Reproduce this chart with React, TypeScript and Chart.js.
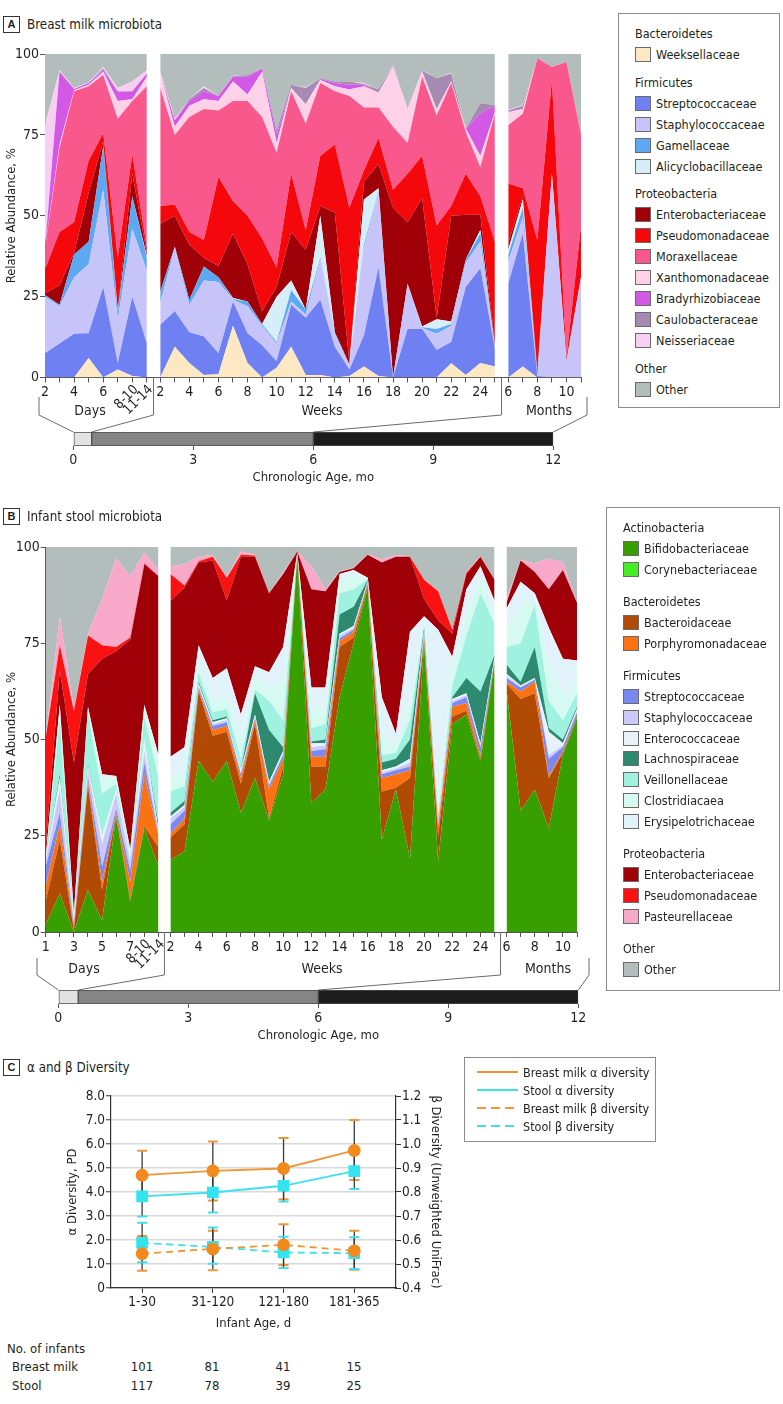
import React, { useEffect, useRef } from 'react';
import { Chart, registerables } from 'chart.js';

Chart.register(...registerables);

const FONT = "'Liberation Sans Narrow', 'Arial Narrow', 'DejaVu Sans Condensed', 'Roboto Condensed', sans-serif";
const INK = '#231F20';
const AXIS = '#555555';
const OTHER_COLOR = '#B3BDBB';

// ================= Shared time axis =================
const weekTicks = ['2', '', '4', '', '6', '', '8', '', '10', '', '12', '', '14', '', '16', '', '18', '', '20', '', '22', '', '24', ''];
const monthTicks = ['6', '', '8', '', '10', ''];
const timeGroups = ['Days', 'Weeks', 'Months'];
const phaseBounds = [0, 0.46, 6, 12]; // chronologic age, months
const phaseColors = ['#E2E2E2', '#858585', '#1C1C1C'];

// ================= Panel A: breast milk =================
const milkDayTicks = ['2', '', '4', '', '6', '', '8-10', '11-14'];
const milkSegments = [8, 24, 6];
const milkFamilies = ['Weeksellaceae', 'Streptococcaceae', 'Staphylococcaceae', 'Gamellaceae', 'Alicyclobacillaceae', 'Enterobacteriaceae', 'Pseudomonadaceae', 'Moraxellaceae', 'Xanthomonadaceae', 'Bradyrhizobiaceae', 'Caulobacteraceae', 'Neisseriaceae'];
const milkColors = ['#FCE8C2', '#6E80F2', '#C6C4F8', '#5CA8F2', '#D6EEF8', '#A00008', '#F5080C', '#F9588C', '#FDD2E8', '#D458E6', '#A58AB2', '#F8CEF2'];
const milkPhyla = ['Bacteroidetes', 'Firmicutes', 'Proteobacteria'];
const milkPhylumSizes = [1, 4, 7];

const milkWeeksellaceae = [0, 0, 0, 6, 0, 2.5, 0.5, 0, 0, 9.5, 4.5, 0.8, 1, 16, 4.5, 0, 3, 9.5, 0.8, 0.8, 0, 0.5, 3.4, 0.5, 0, 0, 0, 0, 4.4, 0.8, 4.5, 3.4, 0, 3.4, 0, 0, 0, 0];
const milkStreptococcaceae = [7.5, 10.5, 13.5, 7.7, 28, 2, 24.5, 10.5, 16.3, 11, 9.5, 11.9, 6.5, 7.5, 9.2, 10, 2, 13, 17.7, 23.2, 9.5, 2, 9.6, 33.5, 0, 15, 15, 8.5, 6.6, 27.2, 29.3, 5.6, 29, 41.1, 0.5, 0, 0, 0];
const milkStaphylococcaceae = [17.5, 11.5, 17.5, 21.3, 30, 13.5, 21, 22.5, 6.7, 19.5, 8.5, 17.3, 22, 0.5, 8.3, 6, 5.5, 1, 1, 12.5, 4, 1, 27, 23, 0, 14, 0.3, 5, 5, 7.5, 8.2, 0.5, 7, 5, 0.5, 63, 5, 31];
const milkGamellaceae = [0.5, 0.5, 7, 7, 13.5, 2, 10, 4, 3.5, 0.5, 1.5, 4.3, 1.5, 0.3, 1.5, 0.5, 0.5, 3.5, 1.5, 0.5, 0.5, 0.3, 1, 0.5, 0, 0, 0.2, 1.5, 0.5, 1, 2.5, 0, 2, 3, 0, 0, 0, 0];
const milkAlicyclobacillaceae = [0, 0, 0, 0, 0, 0.5, 0, 0.5, 0, 0, 0, 0, 0, 0.3, 0, 0, 14, 3, 0, 13, 0, 0.2, 14, 1, 0, 0, 0.3, 3, 0.8, 0, 1.1, 0, 1.5, 2.5, 0, 0, 0, 0];
const milkEnterobacteriaceae = [0.5, 6, 0.5, 15, 1.5, 0.5, 7, 1, 21, 9.5, 17, 2.7, 3.5, 19.9, 11.5, 4, 3, 15, 18.5, 3, 37, 0.5, 5.5, 7.5, 52.5, 19, 39.7, 0.5, 32.7, 13.8, 4.7, 1, 2, 1, 1.5, 0, 0.5, 0];
const milkPseudomonadaceae = [7.5, 16.5, 9.5, 10, 2.5, 16, 6, 1.5, 5.5, 3.5, 4, 5.5, 27.5, 10, 15, 22.5, 6, 18, 6, 15.5, 21, 48, 3.5, 8, 5.5, 15, 13, 28.5, 3, 12.7, 5.7, 31.5, 18.5, 2.5, 40, 29, 0.5, 16];
const milkMoraxellaceae = [6.5, 26, 40.5, 23, 18, 43, 16.5, 50, 36.5, 21.5, 35.5, 40.5, 20.5, 31, 35.5, 37.5, 35.5, 25.5, 33, 22.5, 16.5, 34.5, 19.5, 9.5, 19.5, 9.5, 24.5, 34, 38, 13, 9, 39.5, 18, 23, 56.2, 4, 91.5, 28];
const milkXanthomonadaceae = [0, 1, 0.3, 0.5, 1, 5.5, 0.5, 3, 4.5, 2.5, 3.5, 3, 3, 6, 2, 14, 3, 1, 6, 1, 1.5, 2, 6.5, 4.5, 18.5, 10.5, 1.5, 2, 0.5, 1, 3.5, 0.5, 4, 1.5, 0, 0, 0, 0];
const milkBradyrhizobiaceae = [0, 22.5, 0.4, 0.5, 0.5, 2.8, 2.5, 1, 0, 2, 1.5, 2.5, 1.5, 1.5, 5.5, 1, 2.5, 0, 0, 0.3, 1, 1.5, 0.5, 0, 0.2, 0, 0.2, 0, 0, 0, 13.2, 2, 0.2, 0, 0, 0, 0, 0.5];
const milkCaulobacteraceae = [0, 0, 0, 0, 0.5, 0.2, 0, 0, 0, 0, 0.5, 1, 0, 0.2, 0.5, 0, 1.5, 1, 5, 0.2, 0.5, 1, 0.2, 1, 0.2, 0.2, 0.1, 9.5, 2.5, 0, 3.1, 0.2, 0.3, 1, 0, 0, 0, 0];
const milkNeisseriaceae = [38, 0.5, 0.2, 0.2, 0.5, 1, 3, 1, 0.5, 0.5, 0, 0.5, 0, 0.1, 0, 0.1, 0, 0, 0.2, 0, 0, 0, 0.3, 0, 0.2, 0, 0.2, 0, 0.2, 0, 0, 0, 0.2, 0.2, 0, 0, 0, 0];

const milkSeries = [milkWeeksellaceae, milkStreptococcaceae, milkStaphylococcaceae, milkGamellaceae, milkAlicyclobacillaceae, milkEnterobacteriaceae, milkPseudomonadaceae, milkMoraxellaceae, milkXanthomonadaceae, milkBradyrhizobiaceae, milkCaulobacteraceae, milkNeisseriaceae];

// ================= Panel B: infant stool =================
const stoolDayTicks = ['1', '', '3', '', '5', '', '7', '8-10', '11-14'];
const stoolSegments = [9, 24, 6];
const stoolFamilies = ['Bifidobacteriaceae', 'Corynebacteriaceae', 'Bacteroidaceae', 'Porphyromonadaceae', 'Streptococcaceae', 'Staphylococcaceae', 'Enterococcaceae', 'Lachnospiraceae', 'Veillonellaceae', 'Clostridiacaea', 'Erysipelotrichaceae', 'Enterobacteriaceae', 'Pseudomonadaceae', 'Pasteurellaceae'];
const stoolColors = ['#37A000', '#44EE22', '#B04A04', '#FB7212', '#7A88F2', '#CBC9F8', '#E8F3F9', '#2E8A6E', '#9EF2DF', '#D6F9F1', '#E2F2FA', '#A00008', '#FA1212', '#F8A9C9'];
const stoolPhyla = ['Actinobacteria', 'Bacteroidetes', 'Firmicutes', 'Proteobacteria'];
const stoolPhylumSizes = [2, 2, 7, 3];

const stoolBifidobacteriaceae = [2, 10, 0, 11, 3, 30, 8, 27, 17, 18.7, 21, 44.5, 39, 44.5, 31, 40, 29, 41, 97.5, 33.5, 37, 61, 75, 89.5, 24, 37, 19, 75, 18.5, 54, 56.5, 44.5, 70, 63, 31.5, 37, 27, 46, 55.5];
const stoolCorynebacteriaceae = [0, 0, 0, 0, 0, 0, 0, 0, 0, 0, 0, 0, 0, 0, 0, 0, 0, 0, 0, 0, 0, 0, 0, 0, 0, 0, 0, 0, 0, 0, 0, 0, 0, 0, 0, 0, 0, 0, 0];
const stoolBacteroidaceae = [6, 14, 0.5, 27, 8, 0.5, 0.5, 0.5, 5, 5.8, 7, 18, 12, 7.5, 7.5, 14, 0.5, 2, 0.2, 9.5, 6, 13, 1.5, 0.5, 12.5, 0.5, 21, 1, 6.5, 2, 1, 0.5, 0.3, 1.5, 29, 25, 13, 0.5, 0.5];
const stoolPorphyromonadaceae = [4, 4, 0.5, 1, 2, 0.5, 4.5, 13.5, 3, 1, 1.5, 0.5, 1.5, 1.5, 1.5, 1, 7.5, 2, 0.2, 2.5, 2.5, 1.5, 1.5, 0.5, 3.5, 3.5, 2, 0.5, 2.5, 2.5, 2, 1, 0.2, 0.5, 2, 3, 0.5, 0.5, 0];
const stoolStreptococcaceae = [5, 3, 1, 1, 4, 1, 3, 3, 0.5, 2.5, 2, 0.5, 1, 1, 1, 0.5, 1, 1, 0.1, 1.5, 2, 0.8, 0.5, 0.2, 1, 1, 1, 0.5, 0.5, 1, 1.5, 2, 0.2, 1, 1, 0.5, 4.5, 1, 1];
const stoolStaphylococcaceae = [1.5, 6, 1, 2, 6, 4, 2.5, 3, 0.5, 1.5, 1, 0.5, 0.5, 0.5, 0.5, 0.5, 0.5, 0.5, 0.1, 1, 1, 0.7, 0.5, 0.3, 0.5, 0.5, 1, 0.5, 0.5, 0.5, 0.5, 0.5, 0.3, 0.5, 0.2, 0.3, 1, 0.5, 0.5];
const stoolEnterococcaceae = [0.5, 3, 0.5, 1, 2, 1, 0.5, 3, 0.5, 0.5, 0.5, 0.5, 0.5, 0.5, 0.5, 0.5, 0.5, 0.5, 0.1, 1, 0.5, 0.5, 0.5, 0.2, 0.5, 0.5, 1, 0.5, 0.5, 0.5, 0.5, 0.5, 0.5, 0.5, 0.3, 0.2, 6, 0.5, 0.5];
const stoolLachnospiraceae = [0, 1, 0, 0.5, 0, 0, 0, 0, 1.5, 1, 1, 0.5, 0.5, 0.5, 0, 5.5, 13.5, 1, 0.1, 0.5, 1, 5, 5, 0.3, 2, 2, 5, 1, 0.5, 0.5, 4, 13.5, 0.5, 2.5, 1, 8, 1, 1, 0.5];
const stoolVeillonellaceae = [0, 14, 0.5, 13.5, 11, 1.5, 1, 6, 12, 5.5, 4, 2.5, 2, 2, 3, 1, 7.5, 7, 0.1, 3.5, 4, 5.5, 4.5, 0.2, 2, 1.5, 5, 1, 0.5, 3, 11, 25.5, 8, 4.5, 10, 11, 7, 5, 3.5];
const stoolClostridiacaea = [0, 3, 0.5, 1, 4, 1.5, 1, 2.5, 4, 3.5, 4, 2.5, 3, 4, 5, 3, 3.5, 10, 0.1, 5, 4.5, 3.5, 4, 0.2, 6, 2, 5, 1, 5, 5, 6, 4, 4, 4, 10, 2, 10, 7, 3];
const stoolErysipelotrichaceae = [0.5, 1, 0.5, 0.5, 1, 0.5, 0.5, 0.5, 2, 5.5, 6, 4.5, 6, 6.5, 6.5, 3, 4, 9, 0.1, 5.5, 5, 1.5, 1, 0.1, 9, 3, 18, 1, 43.5, 2.5, 6, 3, 2, 6, 6, 1, 9, 9, 5.5];
const stoolEnterobacteriaceae = [2.5, 9, 39, 8.5, 30, 32.5, 54.5, 36.5, 46.5, 40.5, 41.5, 21.5, 30.5, 17.7, 41, 28.5, 20.5, 19, 0.2, 25.5, 25, 0.5, 0.5, 6, 35, 46, 19.5, 4.5, 2.5, 6, 4, 2.5, 5.5, 1.5, 5.5, 5.5, 10, 23, 15];
const stoolPseudomonadaceae = [28.5, 6.5, 13.5, 10, 3.5, 1, 0.5, 0.3, 0, 7, 0.5, 0.3, 1, 5.8, 0.5, 0.3, 0, 0, 0, 0, 0, 0, 0, 0, 0, 0, 0, 5, 7.5, 1, 0.3, 0, 0, 0, 0, 0, 0, 0, 0];
const stoolPasteurellaceae = [0, 7.5, 0.5, 0.5, 12, 23, 16, 2.7, 1.5, 2, 5.5, 1.2, 0.5, 0.2, 0.8, 0.2, 0, 0.5, 0, 6, 0.5, 0.2, 0.2, 0.2, 0.8, 0.4, 0.1, 0, 0.2, 0, 0.3, 0.2, 0, 1, 0.1, 2.3, 8, 2, 0];

const stoolSeries = [stoolBifidobacteriaceae, stoolCorynebacteriaceae, stoolBacteroidaceae, stoolPorphyromonadaceae, stoolStreptococcaceae, stoolStaphylococcaceae, stoolEnterococcaceae, stoolLachnospiraceae, stoolVeillonellaceae, stoolClostridiacaea, stoolErysipelotrichaceae, stoolEnterobacteriaceae, stoolPseudomonadaceae, stoolPasteurellaceae];

// ================= Panel C: diversity =================
const ageGroups = ['1-30', '31-120', '121-180', '181-365'];
const milkAlpha = [4.7, 4.88, 4.98, 5.73];
const milkAlphaLow = [3.7, 3.65, 3.7, 4.5];
const milkAlphaHigh = [5.72, 6.1, 6.25, 7.0];
const stoolAlpha = [3.82, 3.98, 4.26, 4.87];
const stoolAlphaLow = [2.98, 3.15, 3.6, 4.13];
const stoolAlphaHigh = [4.68, 4.8, 4.93, 5.57];
const milkBeta = [0.543, 0.563, 0.58, 0.555];
const milkBetaLow = [0.472, 0.474, 0.496, 0.476];
const milkBetaHigh = [0.617, 0.639, 0.666, 0.639];
const stoolBeta = [0.588, 0.571, 0.548, 0.545];
const stoolBetaLow = [0.507, 0.501, 0.483, 0.479];
const stoolBetaHigh = [0.672, 0.652, 0.614, 0.611];
const infantsBreastMilk = [101, 81, 41, 15];
const infantsStool = [117, 78, 39, 25];

const ORANGE_LINE = '#EE9638';
const ORANGE_MARK = '#F28A1E';
const CYAN_LINE = '#3EE0EE';
const CYAN_MARK = '#33E4F0';

// ================= Components =================
type AreaLayout = {
  top: number; height: number; axisW: number; padRight: number; padTop: number; xAxisH: number;
  leftX: number; rightX: number; vTop: number; vBottom: number; barTop: number;
  tlLeft: number; tlRight: number; groupX: number[]; groupY: number;
};

function AreaChart(props: { series: number[][]; labels: string[]; colors: string[]; segments: number[]; gap: number; ticks: string[]; L: AreaLayout }) {
  const ref = useRef<HTMLCanvasElement>(null);
  useEffect(() => {
    const { series, labels, colors, segments, gap, ticks, L } = props;
    const segXs: number[][] = [];
    let start = 0;
    segments.forEach((n) => {
      const xs: number[] = [];
      for (let i = 0; i < n; i++) xs.push(start + i);
      segXs.push(xs);
      start = start + n - 1 + gap;
    });
    const allXs = segXs.flat();
    const xMax = allXs[allXs.length - 1];
    const datasets: any[] = [];
    let gi = 0;
    segments.forEach((n, s) => {
      const xs = segXs[s];
      const cum = xs.map(() => 0);
      series.forEach((vals, f) => {
        const data = xs.map((x, i) => { cum[i] += vals[gi + i]; return { x, y: cum[i] }; });
        datasets.push({ label: labels[f], data, backgroundColor: colors[f], borderColor: 'transparent', borderWidth: 0, pointRadius: 0, fill: f === 0 ? 'origin' : '-1', tension: 0 });
      });
      const other = xs.map((_, i) => 100 - cum[i]);
      datasets.push({ label: 'Other', data: xs.map((x, i) => ({ x, y: cum[i] + other[i] })), backgroundColor: OTHER_COLOR, borderColor: 'transparent', borderWidth: 0, pointRadius: 0, fill: '-1', tension: 0 });
      gi += n;
    });
    const seps = [
      (segXs[0][segXs[0].length - 1] + segXs[1][0]) / 2,
      (segXs[1][segXs[1].length - 1] + segXs[2][0]) / 2,
    ];
    const rotated = ticks.map((t, i) => ({ t, v: allXs[i] })).filter((o) => o.t.indexOf('-') >= 0);
    const bracketPlugin = {
      id: 'brackets',
      afterDraw(chart: any) {
        const { ctx, chartArea } = chart;
        const x = chart.scales.x;
        const T = (m: number) => L.tlLeft + (m / 12) * (L.tlRight - L.tlLeft);
        ctx.save();
        ctx.strokeStyle = '#6b6b6b';
        ctx.lineWidth = 1;
        ctx.beginPath();
        ctx.moveTo(L.leftX, L.vTop); ctx.lineTo(L.leftX, L.vBottom); ctx.lineTo(T(phaseBounds[0]), L.barTop);
        seps.forEach((sv, k) => {
          const px = x.getPixelForValue(sv);
          ctx.moveTo(px, chartArea.bottom); ctx.lineTo(px, L.vBottom); ctx.lineTo(T(phaseBounds[k + 1]), L.barTop);
        });
        ctx.moveTo(L.rightX, L.vTop); ctx.lineTo(L.rightX, L.vBottom); ctx.lineTo(T(phaseBounds[3]), L.barTop);
        ctx.stroke();
        ctx.fillStyle = INK;
        ctx.font = `13.5px ${FONT}`;
        rotated.forEach((o) => {
          const px = x.getPixelForValue(o.v);
          ctx.save();
          ctx.translate(px + 4, chartArea.bottom + 10);
          ctx.rotate(-Math.PI / 4);
          ctx.textAlign = 'right';
          ctx.textBaseline = 'middle';
          ctx.fillText(o.t, 0, 0);
          ctx.restore();
        });
        ctx.font = `14px ${FONT}`;
        ctx.textAlign = 'center';
        ctx.textBaseline = 'middle';
        timeGroups.forEach((g, k) => ctx.fillText(g, L.groupX[k], L.groupY));
        ctx.restore();
      },
    };
    const chart = new Chart(ref.current as HTMLCanvasElement, {
      type: 'line',
      data: { datasets },
      options: {
        responsive: false, animation: false, devicePixelRatio: 1, events: [],
        layout: { padding: { left: 0, right: L.padRight, top: L.padTop, bottom: 0 } },
        plugins: { legend: { display: false }, tooltip: { enabled: false } },
        scales: {
          x: {
            type: 'linear', min: 0, max: xMax,
            afterBuildTicks: (sc: any) => { sc.ticks = allXs.map((v) => ({ value: v })); },
            afterFit: (sc: any) => { sc.height = L.xAxisH; },
            ticks: { autoSkip: false, maxRotation: 0, minRotation: 0, padding: 1.5, color: INK, font: { family: FONT, size: 14 },
              callback: (_v: any, i: number) => (ticks[i] && ticks[i].indexOf('-') < 0 ? ticks[i] : '') },
            grid: { drawOnChartArea: false, drawTicks: true, tickLength: 5, color: AXIS },
            border: { display: true, color: AXIS },
          },
          y: {
            min: 0, max: 100,
            afterFit: (sc: any) => { sc.width = L.axisW; },
            ticks: { stepSize: 25, padding: 1, color: INK, font: { family: FONT, size: 14 } },
            grid: { drawOnChartArea: false, tickLength: 5, color: AXIS },
            border: { display: true, color: AXIS },
            title: { display: true, text: 'Relative Abundance, %', color: INK, font: { family: FONT, size: 13 }, padding: { top: 4, bottom: 0 } },
          },
        },
      } as any,
      plugins: [bracketPlugin],
    });
    return () => chart.destroy();
  }, []);
  return <canvas ref={ref} width={600} height={props.L.height} style={{ position: 'absolute', left: 0, top: props.L.top }} />;
}

function Timeline(props: { top: number; tlLeft: number; tlRight: number }) {
  const ref = useRef<HTMLCanvasElement>(null);
  useEffect(() => {
    const chart = new Chart(ref.current as HTMLCanvasElement, {
      type: 'bar',
      data: {
        labels: ['age'],
        datasets: phaseColors.map((c, i) => ({
          label: timeGroups[i], data: [[phaseBounds[i], phaseBounds[i + 1]]] as any,
          backgroundColor: c, borderColor: '#4d4d4d', borderWidth: 1, borderSkipped: false,
          barPercentage: 1, categoryPercentage: 1, grouped: false,
        })),
      },
      options: {
        indexAxis: 'y', responsive: false, animation: false, devicePixelRatio: 1, events: [],
        layout: { padding: { left: props.tlLeft, right: 600 - props.tlRight, top: 12, bottom: 0 } },
        plugins: { legend: { display: false }, tooltip: { enabled: false } },
        scales: {
          x: {
            type: 'linear', min: 0, max: 12,
            afterFit: (sc: any) => { sc.height = 44; },
            ticks: { stepSize: 3, padding: 1.5, color: INK, font: { family: FONT, size: 14 } },
            grid: { drawOnChartArea: false, tickLength: 4, color: AXIS },
            border: { display: false },
            title: { display: true, text: 'Chronologic Age, mo', color: INK, font: { family: FONT, size: 13 }, padding: { top: 0, bottom: 5 } },
          },
          y: { display: false },
        },
      } as any,
    });
    return () => chart.destroy();
  }, []);
  return <canvas ref={ref} width={600} height={70} style={{ position: 'absolute', left: 0, top: props.top }} />;
}

function DiversityChart() {
  const ref = useRef<HTMLCanvasElement>(null);
  useEffect(() => {
    const bars = [
      { axis: 'y', low: milkAlphaLow, high: milkAlphaHigh, cap: ORANGE_LINE },
      { axis: 'y', low: stoolAlphaLow, high: stoolAlphaHigh, cap: CYAN_LINE },
      { axis: 'y2', low: milkBetaLow, high: milkBetaHigh, cap: ORANGE_LINE },
      { axis: 'y2', low: stoolBetaLow, high: stoolBetaHigh, cap: CYAN_LINE },
    ];
    const errorPlugin = {
      id: 'errorBars',
      beforeDatasetsDraw(chart: any) {
        const { ctx } = chart;
        const xs = chart.scales.x;
        ctx.save();
        bars.forEach((b) => {
          const ys = chart.scales[b.axis];
          b.low.forEach((lo, i) => {
            const x = xs.getPixelForValue(i);
            const y1 = ys.getPixelForValue(lo);
            const y2 = ys.getPixelForValue(b.high[i]);
            ctx.strokeStyle = '#3a3a3a';
            ctx.lineWidth = 1.3;
            ctx.beginPath(); ctx.moveTo(x, y1); ctx.lineTo(x, y2); ctx.stroke();
            ctx.strokeStyle = b.cap;
            ctx.lineWidth = 2;
            ctx.beginPath();
            ctx.moveTo(x - 5, y1); ctx.lineTo(x + 5, y1);
            ctx.moveTo(x - 5, y2); ctx.lineTo(x + 5, y2);
            ctx.stroke();
          });
        });
        ctx.restore();
      },
    };
    const pts = (arr: number[]) => arr.map((y, i) => ({ x: i, y }));
    const tickFont = { family: FONT, size: 13.5 };
    const titleFont = { family: FONT, size: 13 };
    const chart = new Chart(ref.current as HTMLCanvasElement, {
      type: 'line',
      data: {
        datasets: [
          { label: 'Breast milk α diversity', data: pts(milkAlpha), yAxisID: 'y', borderColor: ORANGE_LINE, borderWidth: 1.8, backgroundColor: ORANGE_MARK, pointBackgroundColor: ORANGE_MARK, pointBorderColor: ORANGE_MARK, pointStyle: 'circle', pointRadius: 5.5, tension: 0 },
          { label: 'Stool α diversity', data: pts(stoolAlpha), yAxisID: 'y', borderColor: CYAN_LINE, borderWidth: 1.8, backgroundColor: CYAN_MARK, pointBackgroundColor: CYAN_MARK, pointBorderColor: CYAN_MARK, pointStyle: 'rect', pointRadius: 7, tension: 0 },
          { label: 'Breast milk β diversity', data: pts(milkBeta), yAxisID: 'y2', borderColor: ORANGE_LINE, borderWidth: 1.8, borderDash: [7, 5], backgroundColor: ORANGE_MARK, pointBackgroundColor: ORANGE_MARK, pointBorderColor: ORANGE_MARK, pointStyle: 'circle', pointRadius: 5.5, tension: 0 },
          { label: 'Stool β diversity', data: pts(stoolBeta), yAxisID: 'y2', borderColor: CYAN_LINE, borderWidth: 1.8, borderDash: [7, 5], backgroundColor: CYAN_MARK, pointBackgroundColor: CYAN_MARK, pointBorderColor: CYAN_MARK, pointStyle: 'rect', pointRadius: 7, tension: 0 },
        ],
      },
      options: {
        responsive: false, animation: false, devicePixelRatio: 1, events: [],
        layout: { padding: { left: 0, right: 0, top: 16, bottom: 0 } },
        plugins: { legend: { display: false }, tooltip: { enabled: false } },
        scales: {
          x: {
            type: 'linear', min: -0.44, max: 3.59,
            afterBuildTicks: (sc: any) => { sc.ticks = ageGroups.map((_, i) => ({ value: i })); },
            afterFit: (sc: any) => { sc.height = 47; },
            ticks: { autoSkip: false, maxRotation: 0, padding: 1.6, color: INK, font: tickFont, callback: (_v: any, i: number) => ageGroups[i] },
            grid: { drawOnChartArea: false, tickLength: 5, color: '#333' },
            border: { color: '#333', width: 1.2 },
            title: { display: true, text: 'Infant Age, d', color: INK, font: titleFont, padding: { top: 0, bottom: 4 } },
          },
          y: {
            min: 0, max: 8,
            afterFit: (sc: any) => { sc.width = 111; },
            ticks: { stepSize: 1, padding: 1, color: INK, font: tickFont, callback: (v: any) => (Number(v) === 0 ? '0' : Number(v).toFixed(1)) },
            grid: { color: '#D9D9D9', lineWidth: 1.5, tickColor: '#333', tickLength: 5, tickWidth: 1 },
            border: { color: '#333', width: 1.2 },
            title: { display: true, text: 'α Diversity, PD', color: INK, font: titleFont, padding: { top: 65, bottom: 0 } },
          },
          y2: {
            position: 'right', min: 0.4, max: 1.2,
            afterFit: (sc: any) => { sc.width = 74; },
            ticks: { stepSize: 0.1, padding: 1, color: INK, font: tickFont, callback: (v: any) => Number(v).toFixed(1) },
            grid: { drawOnChartArea: false, tickLength: 5, color: '#333' },
            border: { color: '#333', width: 1.2 },
            title: { display: true, text: 'β Diversity (Unweighted UniFrac)', color: INK, font: titleFont, padding: { top: 27, bottom: 0 } },
          },
        },
      } as any,
      plugins: [errorPlugin],
    });
    return () => chart.destroy();
  }, []);
  return <canvas ref={ref} width={470} height={255} style={{ position: 'absolute', left: 0, top: 1080 }} />;
}

function PanelTitle(props: { letter: string; text: string; center: number }) {
  return (
    <>
      <div style={{ position: 'absolute', left: 3, top: props.center - 8.5, width: 17, height: 17, border: '1.2px solid #333', boxSizing: 'border-box', fontFamily: "'Liberation Sans', Arial, sans-serif", fontWeight: 'bold', fontSize: 11, lineHeight: '15px', textAlign: 'center' }}>{props.letter}</div>
      <div style={{ position: 'absolute', left: 27, top: props.center - 9.5, fontSize: 13.3, lineHeight: '19px', whiteSpace: 'nowrap' }}>{props.text}</div>
    </>
  );
}

function FamilyLegend(props: { left: number; top: number; width: number; height: number; phyla: string[]; sizes: number[]; families: string[]; colors: string[]; gap: number; rowH: number }) {
  const groups: { name: string; items: { label: string; color: string }[] }[] = [];
  let k = 0;
  props.phyla.forEach((p, gi) => {
    const items = [];
    for (let j = 0; j < props.sizes[gi]; j++) { items.push({ label: props.families[k], color: props.colors[k] }); k++; }
    groups.push({ name: p, items });
  });
  groups.push({ name: 'Other', items: [{ label: 'Other', color: OTHER_COLOR }] });
  return (
    <div style={{ position: 'absolute', left: props.left, top: props.top, width: props.width, height: props.height, border: '1px solid #8c8c8c', boxSizing: 'border-box', paddingTop: 10, paddingLeft: 16, fontSize: 12.5 }}>
      {groups.map((g, gi) => (
        <div key={gi} style={{ marginTop: gi ? props.gap : 0 }}>
          <div style={{ height: 20, lineHeight: '20px', whiteSpace: 'nowrap' }}>{g.name}</div>
          {g.items.map((it, ii) => (
            <div key={ii} style={{ height: props.rowH, display: 'flex', alignItems: 'center', whiteSpace: 'nowrap' }}>
              <span style={{ display: 'inline-block', width: 16, height: 15, background: it.color, border: '1px solid #6a6a6a', boxSizing: 'border-box', marginRight: 5, flex: 'none' }} />
              <span>{it.label}</span>
            </div>
          ))}
        </div>
      ))}
    </div>
  );
}

const diversityLegend = [
  { label: 'Breast milk α diversity', color: ORANGE_LINE, dash: '' },
  { label: 'Stool α diversity', color: CYAN_LINE, dash: '' },
  { label: 'Breast milk β diversity', color: ORANGE_LINE, dash: '9 5' },
  { label: 'Stool β diversity', color: CYAN_LINE, dash: '9 5' },
];

const A_LAYOUT: AreaLayout = {
  top: 0, height: 434, axisW: 45, padRight: 19, padTop: 54, xAxisH: 56.5,
  leftX: 39, rightX: 587, vTop: 397, vBottom: 415, barTop: 432,
  tlLeft: 73.3, tlRight: 553.3, groupX: [90, 322, 549], groupY: 411,
};
const B_LAYOUT: AreaLayout = {
  top: 480, height: 512, axisW: 45.7, padRight: 23, padTop: 67, xAxisH: 60,
  leftX: 37, rightX: 589, vTop: 478, vBottom: 495, barTop: 510,
  tlLeft: 58.3, tlRight: 578.3, groupX: [84, 322, 548], groupY: 489,
};

export default function App() {
  const colX = [142, 212, 283, 354];
  const cell = { position: 'absolute' as const, fontSize: 13, lineHeight: '18px', whiteSpace: 'nowrap' as const };
  return (
    <div style={{ position: 'absolute', left: 0, top: 0, width: 783, height: 1404, background: '#fff', fontFamily: FONT, color: INK, overflow: 'hidden' }}>
      <PanelTitle letter="A" text="Breast milk microbiota" center={24} />
      <AreaChart series={milkSeries} labels={milkFamilies} colors={milkColors} segments={milkSegments} gap={0.92} ticks={[...milkDayTicks, ...weekTicks, ...monthTicks]} L={A_LAYOUT} />
      <Timeline top={420} tlLeft={73.3} tlRight={553.3} />
      <FamilyLegend left={618} top={13} width={162} height={395} phyla={milkPhyla} sizes={milkPhylumSizes} families={milkFamilies} colors={milkColors} gap={7.5} rowH={21} />

      <PanelTitle letter="B" text="Infant stool microbiota" center={516} />
      <AreaChart series={stoolSeries} labels={stoolFamilies} colors={stoolColors} segments={stoolSegments} gap={0.85} ticks={[...stoolDayTicks, ...weekTicks, ...monthTicks]} L={B_LAYOUT} />
      <Timeline top={978} tlLeft={58.3} tlRight={578.3} />
      <FamilyLegend left={606} top={507} width={174} height={484} phyla={stoolPhyla} sizes={stoolPhylumSizes} families={stoolFamilies} colors={stoolColors} gap={12.5} rowH={20.8} />

      <PanelTitle letter="C" text="α and β Diversity" center={1067.5} />
      <DiversityChart />
      <div style={{ position: 'absolute', left: 464, top: 1057, width: 192, height: 85, border: '1px solid #8c8c8c', boxSizing: 'border-box', paddingTop: 5, fontSize: 12.5 }}>
        {diversityLegend.map((d, i) => (
          <div key={i} style={{ height: 18, display: 'flex', alignItems: 'center', whiteSpace: 'nowrap' }}>
            <svg width={46} height={6} style={{ flex: 'none', marginLeft: 12 }}>
              <line x1={0} y1={3} x2={41} y2={3} stroke={d.color} strokeWidth={2} strokeDasharray={d.dash || undefined} />
            </svg>
            <span>{d.label}</span>
          </div>
        ))}
      </div>

      <div style={{ ...cell, left: 7, top: 1340 }}>No. of infants</div>
      <div style={{ ...cell, left: 12, top: 1358 }}>Breast milk</div>
      <div style={{ ...cell, left: 12, top: 1377 }}>Stool</div>
      {infantsBreastMilk.map((n, i) => (
        <div key={'bm' + i} style={{ ...cell, left: colX[i] - 20, width: 40, textAlign: 'center', top: 1358 }}>{n}</div>
      ))}
      {infantsStool.map((n, i) => (
        <div key={'st' + i} style={{ ...cell, left: colX[i] - 20, width: 40, textAlign: 'center', top: 1377 }}>{n}</div>
      ))}
    </div>
  );
}
